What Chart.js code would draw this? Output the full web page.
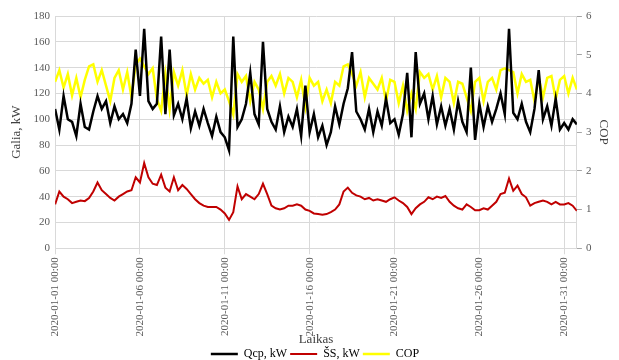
<!DOCTYPE html>
<html>
<head>
<meta charset="utf-8">
<script src="https://cdn.jsdelivr.net/npm/chart.js@4/dist/chart.umd.min.js"></script>
<style>
html,body{margin:0;padding:0;background:#fff;}
#wrap{width:619px;height:360px;}
</style>
</head>
<body>
<div id="wrap"><canvas id="c" width="619" height="360"></canvas></div>
<script>
// 6-hourly readings, starting 2020-01-01 00:00
const stepHours = 6;
const tickLabels = ['2020-01-01 00:00','2020-01-06 00:00','2020-01-11 00:00','2020-01-16 00:00','2020-01-21 00:00','2020-01-26 00:00','2020-01-31 00:00'];
const tickHours = [0,120,240,360,480,600,720];

const qcp = [
 108,92,118,100, 98,87,112,94, 92,106,118,108, 114,97,110,100, 104,97,112,154,
 118,170,114,108, 112,164,104,154, 103,112,100,116, 93,106,95,108, 97,87,102,90,
 86,76,164,94, 100,112,136,104, 96,160,108,98, 92,110,90,102, 94,108,87,126,
 90,104,86,95, 80,90,110,96, 112,124,152,106, 100,92,108,90, 106,95,116,97,
 100,88,104,136, 86,152,112,120, 100,118,96,110, 95,108,92,114, 98,90,140,84,
 112,94,110,98, 108,120,104,170, 105,100,112,98, 90,108,138,100, 110,95,116,92,
 97,92,100,96
];
const ss = [
 34,44,40,38, 35,36,37,36.5, 39,44,51,45, 42,39,37,40, 42,44,45,55,
 51,66,55,50, 49,57,47,44, 55,45,49,46, 42,38,35,33, 32,32,32,30,
 27,22,28,48, 38,42,40,38, 42,50,42,33, 31,30,31,33, 33,34,33,30,
 29,27,26.5,26, 26.5,28,30,34, 44,47,43,41, 40,38,39,37, 38,37,36,38,
 39.5,37,35,32, 26.5,31,34,36, 39.5,38,40,39, 40.5,36,33,31, 30,34,32,29.5,
 29.5,31,30,33, 36,42,43,54, 44.5,48.5,42,39.5, 33,35,36,37, 36,34,36,34,
 34,35,33,29
];
const cop = [
 4.3,4.6,4.15,4.5, 3.95,4.4,3.9,4.35, 4.7,4.75,4.3,4.6, 4.2,3.8,4.4,4.6, 4.1,4.55,3.9,4.75,
 4.9,4.7,4.5,4.65, 3.85,3.55,4.5,3.6, 4.55,4.2,4.6,3.95, 4.5,4.1,4.4,4.25, 4.35,3.9,4.3,4.0,
 4.1,3.8,3.45,4.5, 4.3,4.45,3.8,4.3, 4.1,3.6,4.3,4.45, 4.2,4.5,4.0,4.4, 4.3,3.9,4.35,3.65,
 4.4,4.2,4.3,3.8, 4.1,3.75,4.3,4.2, 4.7,4.75,4.5,4.2, 4.55,3.9,4.4,4.25, 4.1,4.4,3.8,4.35,
 4.3,3.75,4.2,3.55, 4.0,3.6,4.55,4.4, 4.5,4.1,4.45,3.9, 4.4,4.3,3.75,4.3, 4.25,3.9,3.55,4.3,
 4.4,3.8,4.3,4.4, 4.1,4.6,4.65,4.6, 4.55,4.0,4.5,4.3, 4.35,3.8,4.4,3.9, 4.4,4.45,3.85,4.35,
 4.45,4.0,4.4,4.1
];
const leftTicks = [0,20,40,60,80,100,120,140,160,180];
const rightTicks = [0,1,2,3,4,5,6];

const toPts = arr => arr.map((v, i) => ({x: i * stepHours, y: v}));
const serif = '"Liberation Serif", "Times New Roman", serif';
const gridCol = '#d9d9d9';
const txtCol = '#595959';

new Chart(document.getElementById('c'), {
  type: 'line',
  data: {
    datasets: [
      {label: 'Qcp, kW', data: toPts(qcp), yAxisID: 'y', borderColor: '#000000', backgroundColor: '#000000', borderWidth: 2.5, pointRadius: 0, tension: 0},
      {label: 'ŠS, kW', data: toPts(ss), yAxisID: 'y', borderColor: '#c00000', backgroundColor: '#c00000', borderWidth: 2, pointRadius: 0, tension: 0},
      {label: 'COP', data: toPts(cop), yAxisID: 'y2', borderColor: '#ffff00', backgroundColor: '#ffff00', borderWidth: 2.5, pointRadius: 0, tension: 0}
    ]
  },
  options: {
    responsive: false,
    animation: false,
    layout: {padding: {left: 9, right: -2, top: 16, bottom: -10}},
    plugins: {
      legend: {
        position: 'bottom',
        labels: {usePointStyle: true, pointStyle: 'line', pointStyleWidth: 27, padding: 3,
                 color: '#000', font: {family: serif, size: 12}}
      },
      tooltip: {enabled: false}
    },
    scales: {
      x: {
        type: 'linear', min: 0, max: (qcp.length - 1) * stepHours,
        afterBuildTicks: s => { s.ticks = tickHours.map(v => ({value: v})); },
        ticks: {minRotation: 90, maxRotation: 90, autoSkip: false, color: txtCol,
                font: {family: serif, size: 11},
                callback: (v, i) => tickLabels[i]},
        grid: {color: gridCol, drawTicks: true, tickLength: 6},
        border: {color: gridCol},
        title: {display: true, text: 'Laikas', color: '#404040', font: {family: serif, size: 13}, padding: {top: -8, bottom: -2}}
      },
      y: {
        position: 'left', min: 0, max: 180,
        afterBuildTicks: s => { s.ticks = leftTicks.map(v => ({value: v})); },
        ticks: {color: txtCol, font: {family: serif, size: 11}, padding: 5},
        grid: {color: gridCol, drawTicks: false},
        border: {color: gridCol},
        title: {display: true, text: 'Galia, kW', color: '#404040', font: {family: serif, size: 13}, padding: {top: 0, bottom: 4}}
      },
      y2: {
        position: 'right', min: 0, max: 6,
        afterBuildTicks: s => { s.ticks = rightTicks.map(v => ({value: v})); },
        ticks: {color: txtCol, font: {family: serif, size: 11}, padding: 4},
        grid: {drawOnChartArea: false, color: '#a6a6a6', tickLength: 5},
        border: {color: gridCol},
        title: {display: true, text: 'COP', color: '#404040', font: {family: serif, size: 13}, padding: {top: 10, bottom: 0}}
      }
    }
  }
});
</script>
</body>
</html>
